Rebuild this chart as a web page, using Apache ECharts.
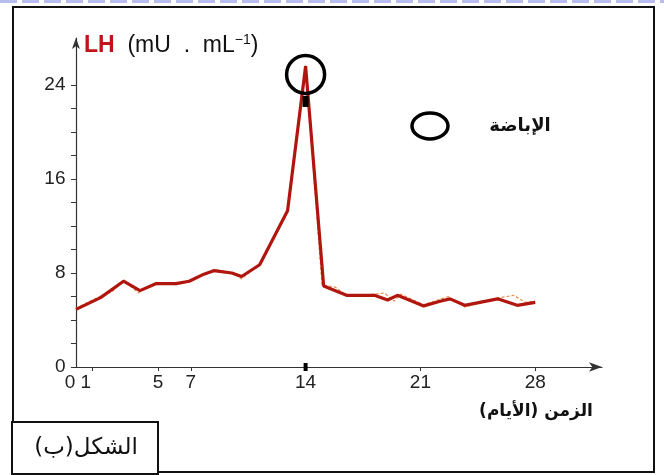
<!DOCTYPE html>
<html>
<head>
<meta charset="utf-8">
<script src="https://cdn.jsdelivr.net/npm/echarts@6/dist/echarts.min.js"></script>
<style>
html,body{margin:0;padding:0;background:#fff;}
#c{width:664px;height:475px;}
</style>
</head>
<body>
<div id="c"></div>
<script>
// ---- data ----
var xTickLabels = [0, 1, 5, 7, 14, 21, 28];
var yTickLabels = [0, 8, 16, 24];
// mean LH curve (day, mU/mL)
var lhDays = [0, 1.5, 2.9, 3.9, 4.9, 6.1, 6.9, 7.8, 8.4, 9.5, 10.1, 11.2, 12.9, 14, 15.1, 16.5, 18.2, 19, 19.6, 21.2, 22.2, 22.8, 23.7, 25.7, 26.9, 28];
var lhValues = [4.9, 5.9, 7.3, 6.5, 7.1, 7.1, 7.3, 7.9, 8.2, 8.0, 7.7, 8.7, 13.3, 25.6, 6.9, 6.1, 6.1, 5.7, 6.1, 5.2, 5.6, 5.8, 5.25, 5.8, 5.25, 5.5];
// faint individual trace under the main curve
var traceDays = [0, 1.3, 2.2, 2.9, 3.8, 4.9, 6.1, 7.0, 7.6, 8.4, 9.4, 10.1, 11.2, 12.9, 14, 15.0, 15.8, 16.6, 18.2, 18.8, 19.4, 19.8, 21.2, 22.7, 23.7, 25.8, 26.7, 27.4, 28];
var traceValues = [5.0, 5.9, 6.4, 7.4, 6.3, 7.2, 7.0, 7.3, 7.7, 8.3, 8.1, 7.5, 8.8, 13.4, 25.7, 7.0, 6.8, 6.0, 6.2, 6.3, 5.6, 6.2, 5.3, 6.0, 5.1, 5.9, 6.1, 5.5, 5.6];
var ovulationDay = 14;
var ovulationCircleValue = 24.9;
var ovulationMarkValue = 22.6;

var yTitle = '{lh|LH}  {n|(mU  .  mL}{sup|−1}{n|)}';
var legendText = 'الإباضة';
var xTitle = 'الزمن (الأيام)';
var figLabel = 'الشكل(ب)';

function pairs(xs, ys){ return xs.map(function(x,i){ return [x, ys[i]]; }); }

var chart = echarts.init(document.getElementById('c'), null, {renderer:'canvas'});
var axisColor = '#333';
chart.setOption({
  backgroundColor: '#ffffff',
  animation: false,
  grid: {left: 73.5, top: 38, width: 528.5, bottom: 108, containLabel: false},
  xAxis: {
    type: 'value', min: -0.15, max: 32.07,
    splitLine: {show: false},
    axisLine: {show: true, onZero: false, lineStyle: {color: axisColor, width: 1.2}, symbol: ['none', 'arrow'], symbolSize: [7, 13]},
    axisTick: {show: true, customValues: [1, 5, 7, 21, 28], length: 4, lineStyle: {color: axisColor}},
    axisLabel: {
      customValues: xTickLabels, color: '#222', fontSize: 19, fontFamily: 'Liberation Sans, Arial', margin: 6,
      formatter: function(v){ if (v === 0) return '{z|0}'; if (v === 1) return '{o|1}'; return String(v); },
      rich: {z: {fontSize: 19, padding: [0, 12, 0, 0]}, o: {fontSize: 19, padding: [0, 13, 0, 0]}}
    }
  },
  yAxis: {
    type: 'value', min: 0, max: 28,
    splitLine: {show: false},
    axisLine: {show: true, lineStyle: {color: axisColor, width: 1.2}, symbol: ['none', 'arrow'], symbolSize: [6, 11]},
    axisTick: {show: true, customValues: [0,2,4,6,8,10,12,14,16,18,20,22,24], length: 5, lineStyle: {color: axisColor}},
    axisLabel: {customValues: yTickLabels, color: '#222', fontSize: 19, fontFamily: 'Liberation Sans, Arial', margin: 8}
  },
  series: [
    {
      type: 'line', data: pairs(traceDays, traceValues), symbol: 'none', z: 2,
      lineStyle: {color: '#e8904a', width: 1.2, type: [3, 2]}
    },
    {
      type: 'line', data: pairs(lhDays, lhValues), symbol: 'none', z: 3,
      lineStyle: {color: '#b0150e', width: 3.2},
      markPoint: {
        silent: true, label: {show: false},
        data: [
          {coord: [ovulationDay, ovulationCircleValue], symbol: 'circle', symbolSize: [38, 38],
           itemStyle: {color: 'rgba(0,0,0,0)', borderColor: '#000', borderWidth: 3.5}},
          {coord: [ovulationDay, ovulationMarkValue], symbol: 'rect', symbolSize: [6, 11],
           itemStyle: {color: '#000'}},
          {coord: [ovulationDay, 0], symbol: 'rect', symbolSize: [4, 8],
           itemStyle: {color: '#000'}}
        ]
      }
    }
  ],
  graphic: [
    // decorative dashed top edge
    {type: 'line', shape: {x1: 0, y1: 1.5, x2: 664, y2: 1.5}, style: {stroke: '#b9bcef', lineWidth: 3, lineDash: [17, 5]}, silent: true},
    // outer frame
    {type: 'rect', shape: {x: 13, y: 7, width: 641, height: 465}, style: {fill: 'none', stroke: '#111', lineWidth: 2}, z: 10},
    // y-axis title
    {type: 'text', left: 84, top: 33, z: 20, style: {
      text: yTitle, fontFamily: 'Liberation Sans, Arial', fontSize: 23, fill: '#111',
      rich: {
        lh: {fontSize: 23, fontWeight: 'bold', fill: '#c0141a', fontFamily: 'Liberation Sans, Arial'},
        n: {fontSize: 23, fill: '#111', fontFamily: 'Liberation Sans, Arial'},
        sup: {fontSize: 14, fill: '#111', fontFamily: 'Liberation Sans, Arial', padding: [0, 0, 12, 0]}
      }}},
    // legend
    {type: 'ellipse', shape: {cx: 430, cy: 126, rx: 18, ry: 13}, style: {fill: 'none', stroke: '#000', lineWidth: 3.5}, z: 20},
    {type: 'text', x: 520, y: 126, z: 20, style: {text: legendText, fontFamily: 'DejaVu Sans', fontWeight: 'bold', fontSize: 18, fill: '#111', align: 'center', verticalAlign: 'middle'}},
    // x-axis title
    {type: 'text', x: 536, y: 412, z: 20, style: {text: xTitle, fontFamily: 'DejaVu Sans', fontWeight: 'bold', fontSize: 17, fill: '#111', align: 'center', verticalAlign: 'middle'}},
    // figure label box
    {type: 'rect', shape: {x: 12, y: 422, width: 146, height: 52}, style: {fill: '#fff', stroke: '#111', lineWidth: 2}, z: 21},
    {type: 'text', x: 86, y: 448, z: 22, style: {text: figLabel, fontFamily: 'DejaVu Sans', fontSize: 23, fill: '#111', align: 'center', verticalAlign: 'middle'}}
  ]
});
</script>
</body>
</html>
